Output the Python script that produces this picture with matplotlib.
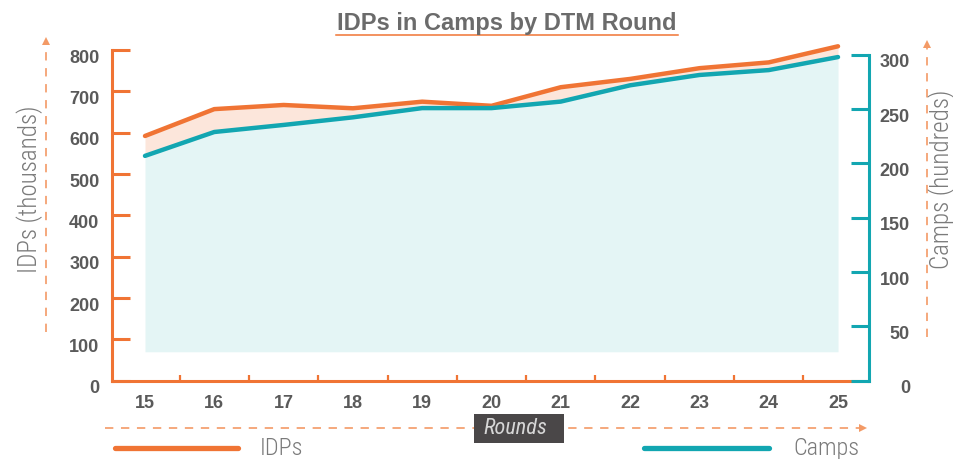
import numpy as np
import matplotlib
matplotlib.use("Agg")
import matplotlib.pyplot as plt
from matplotlib.patches import Rectangle
from matplotlib.transforms import ScaledTranslation

# data
rounds = [15, 16, 17, 18, 19, 20, 21, 22, 23, 24, 25]
idps = [592, 657, 667, 659, 675, 665, 710, 730, 756, 770, 809]      # thousands
camps = [207, 229, 235.5, 242.5, 251, 251, 257, 272, 281.5, 286, 298]  # hundreds
idp_ticks = [0, 100, 200, 300, 400, 500, 600, 700, 800]
camp_ticks = [0, 50, 100, 150, 200, 250, 300]

ORANGE = "#F07434"
TEAL = "#12A6B1"
DASH = "#F39A66"
TICKTXT = "#5a5a5a"
LABTXT = "#7a7a7a"
NARROW = ["Roboto Condensed", "Liberation Sans"]

plt.rcParams["lines.scale_dashes"] = False

fig = plt.figure(figsize=(9.54, 4.59), dpi=100)
ax = fig.add_axes([112 / 954, 78.3 / 459, 757 / 954, 330.7 / 459])
ax2 = ax.twinx()

ax.set_xlim(14.524, 25.447)
ax.set_ylim(0, 800)
ax2.set_ylim(0, 304.5)

# fills (camps converted into the left axis scale)
camps_left = np.array(camps) * 800 / 304.5
ax.fill_between(rounds, 70, camps_left, color="#E4F5F5", lw=0, zorder=1)
ax.fill_between(rounds, camps_left, idps, where=np.array(idps) >= camps_left,
                color="#FCE6DB", lw=0, zorder=1, interpolate=True, clip_on=False)

ax.plot(rounds, idps, color=ORANGE, lw=3.2, solid_capstyle="round", zorder=3, clip_on=False)
ax2.plot(rounds, camps, color=TEAL, lw=3.2, solid_capstyle="round", zorder=3, clip_on=False)

# spines
for s in ["top", "right"]:
    ax.spines[s].set_visible(False)
for s in ["top", "left", "bottom"]:
    ax2.spines[s].set_visible(False)
ax.spines["left"].set_color(ORANGE)
ax.spines["bottom"].set_color(ORANGE)
ax.spines["left"].set_linewidth(2.2)
ax.spines["bottom"].set_linewidth(2.2)
ax2.spines["right"].set_color(TEAL)
ax2.spines["right"].set_linewidth(2.2)
ax2.spines["right"].set_bounds(0, 300)

tickfont = dict(family="Liberation Sans", weight="bold", size=13)

# left axis
ax.set_yticks(idp_ticks)
ax.set_yticklabels([str(t) for t in idp_ticks], color=TICKTXT, **tickfont)
ax.tick_params(axis="y", direction="in", length=13, width=2.2, color=ORANGE, pad=9)

# bottom axis: labels at rounds, tick marks between
ax.set_xticks(rounds)
ax.set_xticklabels([str(r) for r in rounds], color=TICKTXT, **tickfont)
ax.set_xticks(np.array(rounds[:-1]) + 0.5, minor=True)
ax.tick_params(axis="x", which="major", length=0, pad=10)
ax.tick_params(axis="x", which="minor", direction="in", length=4.5, width=1.6, color=ORANGE)

# right axis
ax2.set_yticks(camp_ticks)
ax2.set_yticklabels([str(t) for t in camp_ticks], color=TICKTXT, **tickfont)
ax2.tick_params(axis="y", direction="in", length=13, width=2.2, color=TEAL, pad=29.5)

off = ScaledTranslation(0, -0.06, fig.dpi_scale_trans)
for lab in ax.get_yticklabels():
    lab.set_transform(lab.get_transform() + off)
for lab in ax2.get_yticklabels():
    lab.set_transform(lab.get_transform() + off)
    lab.set_horizontalalignment("right")

# overlay in pixel coordinates for the decorations
ov = fig.add_axes([0, 0, 1, 1], zorder=5)
ov.set_xlim(0, 954)
ov.set_ylim(459, 0)
ov.axis("off")

# title with underline
ov.text(507, 30, "IDPs in Camps by DTM Round", ha="center", va="baseline",
        family="Liberation Sans", weight="bold", size=17, color="#6b6b6b")
ov.plot([336, 678], [35, 35], color=ORANGE, lw=1.1)

# dashed arrows
ov.plot([46, 46], [332, 42], ls=(0, (6, 5.5)), color=DASH, lw=1.2)
ov.plot([46], [41], marker="^", ms=6, color=DASH, mew=0)
ov.plot([927, 927], [337, 45], ls=(0, (6, 5.5)), color=DASH, lw=1.2)
ov.plot([927], [44], marker="^", ms=6, color=DASH, mew=0)
ov.plot([105, 862], [428, 428], ls=(0, (6, 5.5)), color=DASH, lw=1.2)
ov.plot([863], [428], marker=">", ms=6, color=DASH, mew=0)

# axis titles
ov.text(30, 189, "IDPs (thousands)", rotation=90, ha="center", va="center",
        family=NARROW, weight="light", size=18, color=LABTXT)
ov.text(942, 179, "Camps (hundreds)", rotation=90, ha="center", va="center",
        family=NARROW, weight="light", size=18, color=LABTXT)

# Rounds box
ov.add_patch(Rectangle((474, 414), 90, 29, facecolor="#4a4748", edgecolor="none", zorder=6))
ov.text(515, 429, "Rounds", ha="center", va="center", style="italic",
        family=NARROW, size=16, color="#d6d6d6", zorder=7)

# legend
ov.plot([115, 238], [447.7, 447.7], color=ORANGE, lw=3.8, solid_capstyle="round")
ov.text(260, 455, "IDPs", ha="left", va="baseline", family=NARROW, weight="light",
        size=17.5, color=LABTXT)
ov.plot([644, 769], [447.7, 447.7], color=TEAL, lw=3.8, solid_capstyle="round")
ov.text(793, 455, "Camps", ha="left", va="baseline", family=NARROW, weight="light",
        size=17.5, color=LABTXT)

fig.savefig("out.png", dpi=100)
